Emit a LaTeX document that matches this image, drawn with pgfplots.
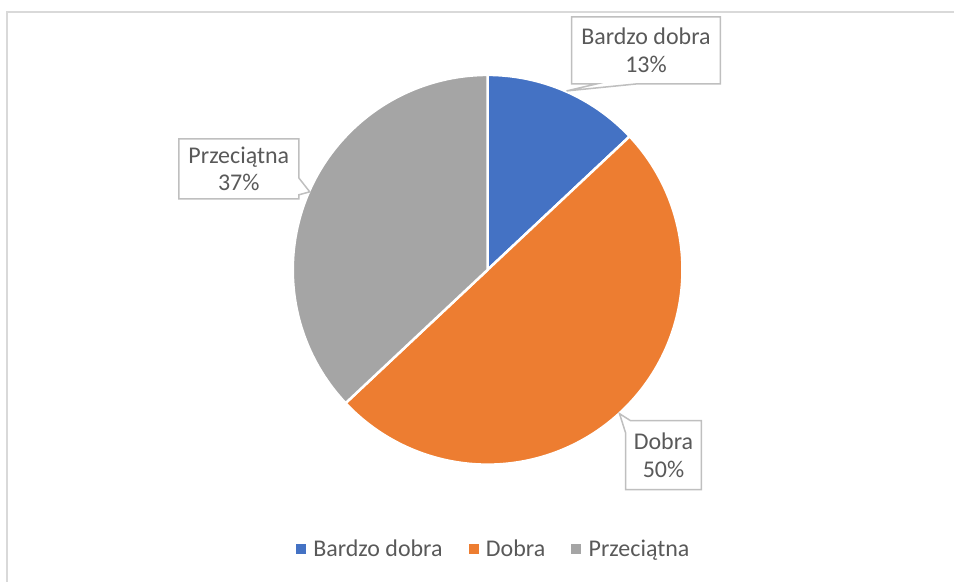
\documentclass[border=0pt]{standalone}
\usepackage{fontspec}
\setmainfont{Carlito}
\usepackage{pgfplots}
\usepackage{pgfplotstable}
\pgfplotsset{compat=1.18}
\definecolor{cBlue}{HTML}{4472C4}
\definecolor{cOrange}{HTML}{ED7D31}
\definecolor{cGray}{HTML}{A5A5A5}
\definecolor{cText}{HTML}{595959}
\definecolor{cFrame}{HTML}{D9D9D9}
\definecolor{cBox}{HTML}{BFBFBF}
\pgfplotstableread{
idx value
0 13
1 50
2 37
}\piedata
\begin{document}
\begin{tikzpicture}
\pgfplotstablegetelem{0}{value}\of\piedata\edef\vA{\pgfplotsretval}
\pgfplotstablegetelem{1}{value}\of\piedata\edef\vB{\pgfplotsretval}
\pgfplotstablegetelem{2}{value}\of\piedata\edef\vC{\pgfplotsretval}
\pgfmathsetmacro\aO{90}
\pgfmathsetmacro\aA{\aO-3.6*\vA}
\pgfmathsetmacro\aB{\aA-3.6*\vB}
\pgfmathsetmacro\aC{\aB-3.6*\vC}
\begin{axis}[
  x=1pt, y=1pt, xmin=0, xmax=955, ymin=0, ymax=582,
  hide axis, clip=false,
  legend columns=3,
  legend style={at={(axis cs:494,33)}, anchor=center, draw=none, fill=none,
    font=\fontsize{24}{28}\selectfont, text=cText,
    /tikz/every even column/.append style={column sep=24pt},
    /tikz/every odd column/.append style={column sep=6pt}},
]
\path (axis cs:0,0) rectangle (axis cs:955,582);
\draw[cFrame, line width=1.5pt] (axis cs:7,0) -- (axis cs:7,570) -- (axis cs:955,570);
% pie slices
\filldraw[fill=cBlue, draw=white, line width=2.5pt, line join=round] (axis cs:488,312) -- ++(\aO:195pt) arc[start angle=\aO, end angle=\aA, radius=195pt] -- cycle;
\filldraw[fill=cOrange, draw=white, line width=2.5pt, line join=round] (axis cs:488,312) -- ++(\aA:195pt) arc[start angle=\aA, end angle=\aB, radius=195pt] -- cycle;
\filldraw[fill=cGray, draw=white, line width=2.5pt, line join=round] (axis cs:488,312) -- ++(\aB:195pt) arc[start angle=\aB, end angle=\aC, radius=195pt] -- cycle;
% callouts
\filldraw[fill=white, draw=cBox, line width=1.5pt] (axis cs:572,565) -- (axis cs:721,565) -- (axis cs:721,498) -- (axis cs:637,498) -- (axis cs:567,491) -- (axis cs:597,498) -- (axis cs:572,498) -- cycle;
\node[font=\fontsize{24}{28}\selectfont, text=cText, align=center] at (axis cs:646.5,531.5) {Bardzo dobra\\13\%};
\filldraw[fill=white, draw=cBox, line width=1.5pt] (axis cs:179,443) -- (axis cs:299,443) -- (axis cs:299,404) -- (axis cs:310,390) -- (axis cs:299,387) -- (axis cs:299,383) -- (axis cs:179,383) -- cycle;
\node[font=\fontsize{24}{28}\selectfont, text=cText, align=center] at (axis cs:239,413) {Przeciątna\\37\%};
\filldraw[fill=white, draw=cBox, line width=1.5pt] (axis cs:631,161) -- (axis cs:702,161) -- (axis cs:702,92) -- (axis cs:626,92) -- (axis cs:626,149) -- (axis cs:620,168) -- cycle;
\node[font=\fontsize{24}{28}\selectfont, text=cText, align=center] at (axis cs:664,126.5) {Dobra\\50\%};
% legend
\addlegendimage{legend image code/.code={\fill[cBlue] (0pt,-4.5pt) rectangle (9pt,4.5pt);}}
\addlegendentry{Bardzo dobra}
\addlegendimage{legend image code/.code={\fill[cOrange] (0pt,-4.5pt) rectangle (9pt,4.5pt);}}
\addlegendentry{Dobra}
\addlegendimage{legend image code/.code={\fill[cGray] (0pt,-4.5pt) rectangle (9pt,4.5pt);}}
\addlegendentry{Przeciątna}
\end{axis}
\end{tikzpicture}
\end{document}
